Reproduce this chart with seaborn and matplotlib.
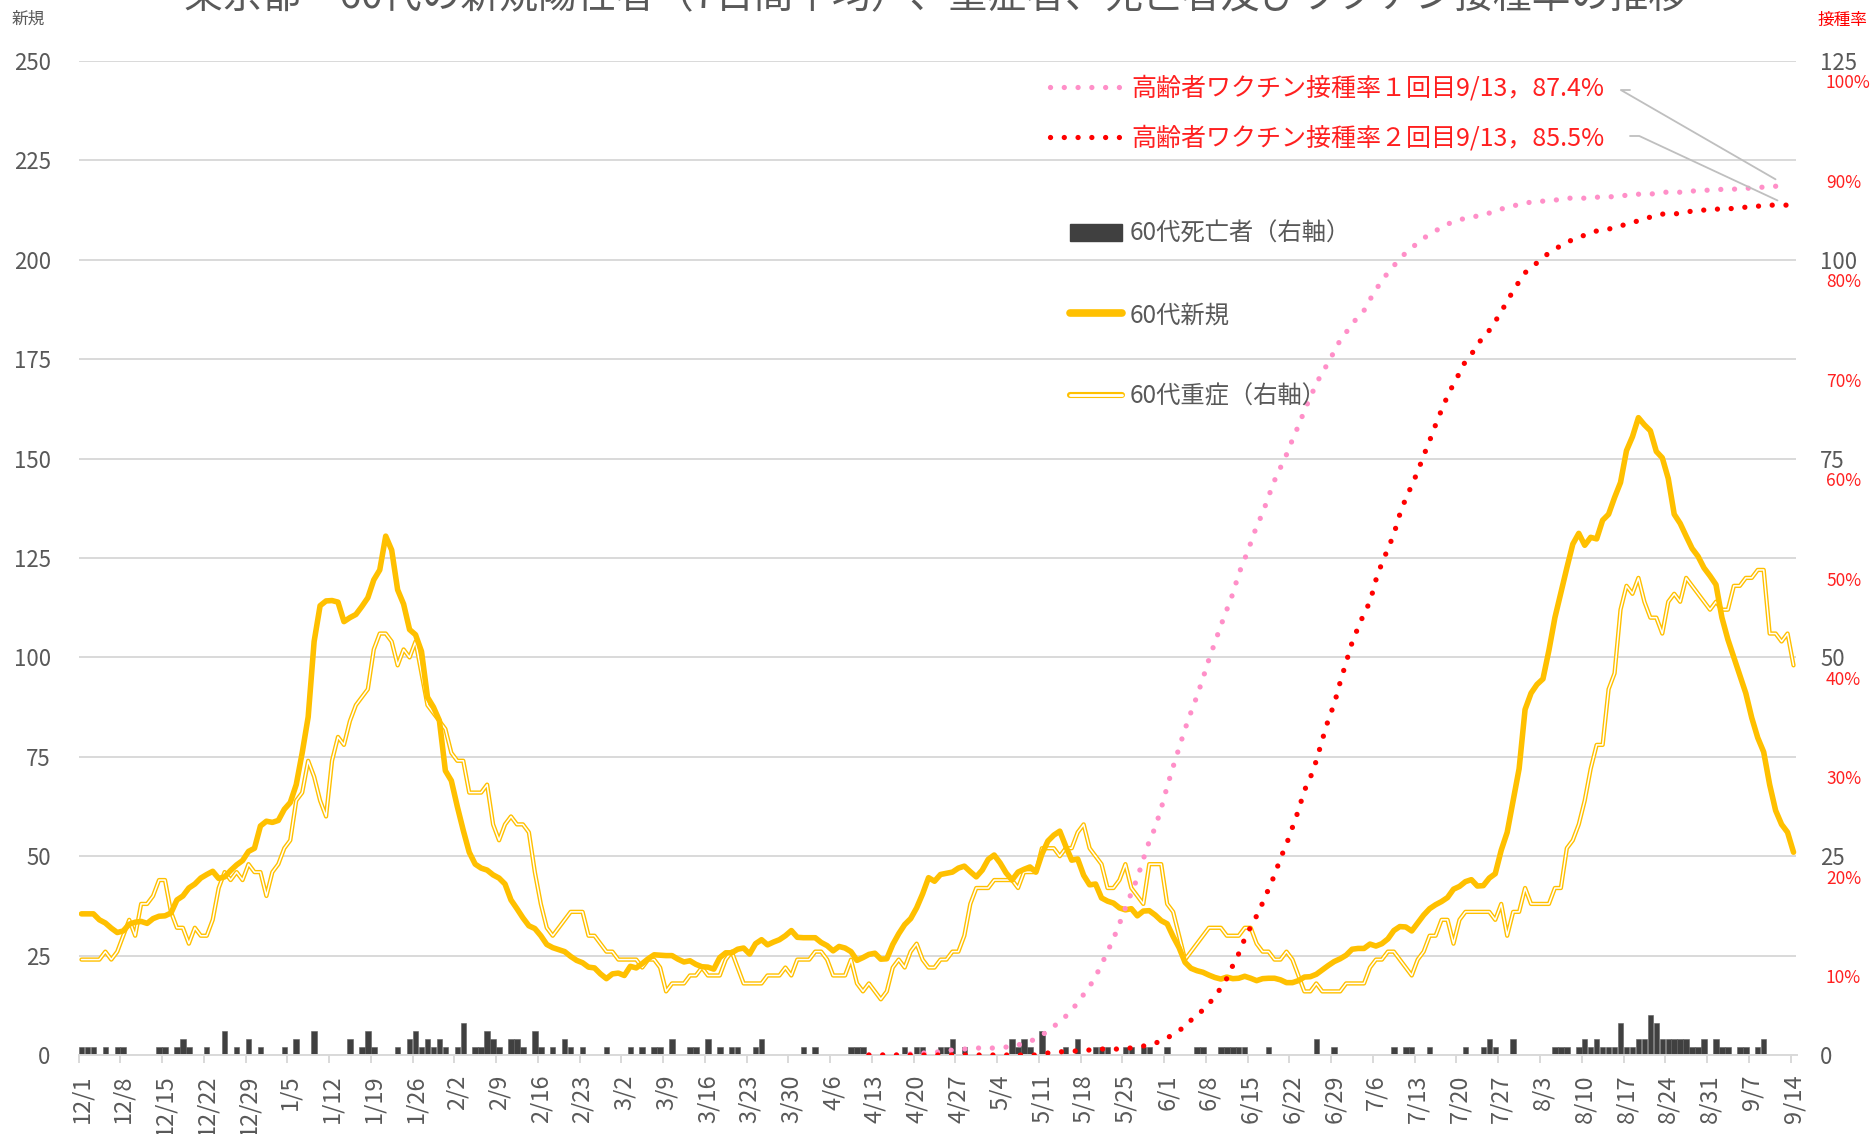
import numpy as np
import pandas as pd
import matplotlib
matplotlib.use("Agg")
import matplotlib.pyplot as plt
import seaborn as sns
from matplotlib.lines import Line2D
from matplotlib.patches import Patch
from matplotlib.legend_handler import HandlerTuple

sns.set_theme(style="white")
plt.rcParams['font.family'] = ['Noto Sans CJK JP', 'DejaVu Sans']

# daily axis 2020/12/1 - 2021/9/14
dates = pd.date_range("2020-12-01", "2021-09-14", freq="D")
tick_labels = ["12/1", "12/8", "12/15", "12/22", "12/29", "1/5", "1/12", "1/19", "1/26",
               "2/2", "2/9", "2/16", "2/23", "3/2", "3/9", "3/16", "3/23", "3/30", "4/6",
               "4/13", "4/20", "4/27", "5/4", "5/11", "5/18", "5/25", "6/1", "6/8", "6/15",
               "6/22", "6/29", "7/6", "7/13", "7/20", "7/27", "8/3", "8/10", "8/17", "8/24",
               "8/31", "9/7", "9/14"]

# 60代新規 (7日間平均)
new_cases = [
    35.5, 35.5, 35.5, 34.0, 33.2, 31.9, 30.8,
    31.2, 32.9, 33.4, 33.6, 33.1, 34.3, 34.9,
    35.0, 35.7, 39.0, 40.0, 42.0, 43.0, 44.5,
    45.4, 46.2, 44.4, 44.8, 46.4, 47.8, 48.9,
    51.2, 52.0, 57.6, 58.8, 58.5, 59.0, 61.8,
    63.5, 68.0, 76.0, 85.0, 104.0, 113.0, 114.2,
    114.3, 113.9, 109.0, 110.0, 110.8, 112.8, 115.0,
    119.5, 122.0, 130.5, 127.0, 117.0, 113.4, 107.0,
    105.7, 101.5, 90.0, 87.5, 84.1, 71.5, 69.0,
    62.5, 56.5, 51.0, 48.0, 47.0, 46.5, 45.3,
    44.5, 43.0, 39.0, 36.8, 34.5, 32.5, 31.8,
    30.0, 27.8, 27.0, 26.5, 26.0, 24.8, 23.8,
    23.2, 22.1, 21.9, 20.4, 19.2, 20.4, 20.6,
    20.0, 22.3, 21.9, 23.0, 24.2, 25.2, 25.1,
    25.0, 25.0, 24.1, 23.4, 23.7, 22.8, 22.2,
    22.1, 21.6, 24.5, 25.7, 25.7, 26.6, 26.9,
    25.4, 28.0, 29.0, 27.7, 28.4, 29.0, 30.0,
    31.3, 29.6, 29.5, 29.5, 29.5, 28.3, 27.5,
    26.2, 27.3, 26.9, 26.0, 23.8, 24.5, 25.3,
    25.6, 24.1, 24.2, 27.8, 30.5, 32.8, 34.3,
    37.0, 40.5, 44.6, 43.7, 45.4, 45.7, 46.0,
    47.0, 47.5, 46.1, 44.8, 46.5, 49.2, 50.3,
    48.3, 45.8, 44.0, 46.0, 46.7, 47.3, 46.0,
    50.5, 53.8, 55.3, 56.3, 52.5, 49.0, 49.3,
    45.2, 42.8, 43.0, 39.5, 38.7, 38.2, 37.0,
    36.5, 36.8, 35.0, 36.2, 36.3, 35.2, 33.8,
    33.0, 29.8, 27.0, 23.3, 21.8, 21.2, 20.8,
    20.1, 19.5, 19.1, 19.6, 19.2, 19.3, 19.8,
    19.3, 18.7, 19.2, 19.3, 19.3, 18.9, 18.2,
    18.2, 18.7, 19.6, 19.7, 20.3, 21.4, 22.5,
    23.5, 24.2, 25.1, 26.6, 26.8, 26.8, 27.9,
    27.4, 28.0, 29.2, 31.3, 32.3, 32.2, 31.2,
    33.2, 35.2, 36.8, 37.8, 38.6, 39.6, 41.7,
    42.4, 43.6, 44.1, 42.5, 42.6, 44.5, 45.6,
    51.5, 56.0, 64.0, 72.0, 86.9, 91.0, 93.2,
    94.6, 101.8, 110.0, 116.3, 122.5, 128.5, 131.2,
    128.2, 130.2, 129.8, 134.5, 136.0, 140.2, 144.0,
    152.0, 155.5, 160.3, 158.5, 157.0, 151.8, 150.2,
    145.0, 136.0, 133.7, 130.5, 127.4, 125.4, 122.5,
    120.5, 118.3, 110.0, 104.5, 100.0, 95.5, 91.0,
    84.8, 79.8, 76.2, 68.0, 61.5, 58.0, 56.0,
    51.0]

# 60代重症 (右軸)
severe = [
    12, 12, 12, 12, 13, 12, 13,
    15, 17, 15, 19, 19, 20, 22,
    22, 18, 16, 16, 14, 16, 15,
    15, 17, 21, 23, 22, 23, 22,
    24, 23, 23, 20, 23, 24, 26,
    27, 32, 33, 37, 35, 32, 30,
    37, 40, 39, 42, 44, 45, 46,
    51, 53, 53, 52, 49, 51, 50,
    52, 48, 44, 43, 42, 41, 38,
    37, 37, 33, 33, 33, 34, 29,
    27, 29, 30, 29, 29, 28, 23,
    19, 16, 15, 16, 17, 18, 18,
    18, 15, 15, 14, 13, 13, 12,
    12, 12, 12, 11, 12, 12, 11,
    8, 9, 9, 9, 10, 10, 11,
    10, 10, 10, 12, 13, 11, 9,
    9, 9, 9, 10, 10, 10, 11,
    10, 12, 12, 12, 13, 13, 12,
    10, 10, 10, 12, 9, 8, 9,
    8, 7, 8, 11, 12, 11, 13,
    14, 12, 11, 11, 12, 12, 13,
    13, 15, 19, 21, 21, 21, 22,
    22, 22, 22, 21, 23, 23, 23,
    26, 26, 26, 25, 26, 26, 28,
    29, 26, 25, 24, 21, 21, 22,
    24, 21, 20, 19, 24, 24, 24,
    19, 18, 15, 12, 13, 14, 15,
    16, 16, 16, 15, 15, 15, 16,
    16, 14, 13, 13, 12, 12, 13,
    12, 10, 8, 8, 9, 8, 8,
    8, 8, 9, 9, 9, 9, 11,
    12, 12, 13, 13, 12, 11, 10,
    12, 13, 15, 15, 17, 17, 14,
    17, 18, 18, 18, 18, 18, 17,
    19, 15, 18, 18, 21, 19, 19,
    19, 19, 21, 21, 26, 27, 29,
    32, 36, 39, 39, 46, 48, 56,
    59, 58, 60, 57, 55, 55, 53,
    57, 58, 57, 60, 59, 58, 57,
    56, 57, 56, 56, 59, 59, 60,
    60, 61, 61, 53, 53, 52, 53,
    49]

# 60代死亡者 (右軸)
deaths = [
    1, 1, 1, 0, 1, 0, 1,
    1, 0, 0, 0, 0, 0, 1,
    1, 0, 1, 2, 1, 0, 0,
    1, 0, 0, 3, 0, 1, 0,
    2, 0, 1, 0, 0, 0, 1,
    0, 2, 0, 0, 3, 0, 0,
    0, 0, 0, 2, 0, 1, 3,
    1, 0, 0, 0, 1, 0, 2,
    3, 1, 2, 1, 2, 1, 0,
    1, 4, 0, 1, 1, 3, 2,
    1, 0, 2, 2, 1, 0, 3,
    1, 0, 1, 0, 2, 1, 0,
    1, 0, 0, 0, 1, 0, 0,
    0, 1, 0, 1, 0, 1, 1,
    0, 2, 0, 0, 1, 1, 0,
    2, 0, 1, 0, 1, 1, 0,
    0, 1, 2, 0, 0, 0, 0,
    0, 0, 1, 0, 1, 0, 0,
    0, 0, 0, 1, 1, 1, 0,
    0, 0, 0, 0, 0, 1, 0,
    1, 1, 0, 0, 1, 1, 2,
    0, 1, 0, 0, 0, 0, 0,
    0, 0, 2, 1, 2, 1, 0,
    3, 0, 0, 0, 1, 0, 2,
    0, 0, 1, 1, 1, 0, 0,
    1, 1, 0, 1, 1, 0, 0,
    1, 0, 0, 0, 0, 1, 1,
    0, 0, 1, 1, 1, 1, 1,
    0, 0, 0, 1, 0, 0, 0,
    0, 0, 0, 0, 2, 0, 0,
    1, 0, 0, 0, 0, 0, 0,
    0, 0, 0, 1, 0, 1, 1,
    0, 0, 1, 0, 0, 0, 0,
    0, 1, 0, 0, 1, 2, 1,
    0, 0, 2, 0, 0, 0, 0,
    0, 0, 1, 1, 1, 0, 1,
    2, 1, 2, 1, 1, 1, 4,
    1, 1, 2, 2, 5, 4, 2,
    2, 2, 2, 2, 1, 1, 2,
    0, 2, 1, 1, 0, 1, 1,
    0, 1, 2, 0, 0, 0, 0,
    0]

# 高齢者ワクチン接種率 (%), 2021/4/12 - 9/13
vax_start = "2021-04-12"
vax_last_label = "9/13"
vax1 = [
    0.0, 0.0, 0.0, 0.0, 0.0, 0.0, 0.1,
    0.1, 0.1, 0.2, 0.2, 0.3, 0.3, 0.4,
    0.5, 0.5, 0.6, 0.6, 0.7, 0.7, 0.7,
    0.7, 0.7, 0.8, 0.8, 1.0, 1.2, 1.4,
    1.6, 2.0, 2.4, 2.9, 3.3, 3.9, 4.6,
    5.2, 6.1, 6.9, 7.9, 9.1, 10.4, 11.7,
    13.2, 14.8, 16.3, 17.8, 19.7, 21.5, 22.9,
    24.8, 27.0, 29.0, 30.9, 32.8, 34.5, 36.1,
    37.9, 39.8, 41.5, 43.2, 44.8, 46.4, 48.4,
    49.9, 51.5, 53.2, 54.5, 56.2, 57.8, 59.1,
    60.4, 61.9, 63.3, 64.8, 66.2, 67.5, 68.7,
    69.6, 70.8, 71.9, 72.7, 73.5, 74.3, 74.9,
    76.0, 77.0, 77.9, 78.7, 79.4, 80.1, 80.7,
    81.2, 81.7, 82.2, 82.5, 82.9, 83.3, 83.6,
    83.8, 84.0, 84.2, 84.3, 84.4, 84.6, 84.7,
    84.9, 85.1, 85.3, 85.4, 85.6, 85.7, 85.8,
    85.9, 85.9, 85.9, 86.0, 86.1, 86.2, 86.2,
    86.2, 86.2, 86.2, 86.3, 86.3, 86.3, 86.4,
    86.4, 86.5, 86.5, 86.6, 86.6, 86.6, 86.7,
    86.8, 86.8, 86.8, 86.8, 86.9, 86.9, 87.0,
    87.0, 87.0, 87.0, 87.1, 87.1, 87.1, 87.2,
    87.2, 87.2, 87.3, 87.3, 87.4, 87.4, 87.4,
    87.4]
vax2 = [
    0.0, 0.0, 0.0, 0.0, 0.0, 0.0, 0.0,
    0.0, 0.0, 0.0, 0.0, 0.0, 0.0, 0.0,
    0.0, 0.0, 0.0, 0.0, 0.0, 0.0, 0.0,
    0.0, 0.0, 0.0, 0.0, 0.0, 0.0, 0.0,
    0.0, 0.1, 0.2, 0.3, 0.3, 0.4, 0.4,
    0.4, 0.5, 0.5, 0.5, 0.6, 0.6, 0.6,
    0.6, 0.7, 0.7, 0.8, 0.9, 1.0, 1.2,
    1.4, 1.7, 2.1, 2.5, 2.8, 3.5, 4.1,
    4.5, 5.1, 6.0, 6.7, 7.7, 9.0, 10.2,
    11.7, 12.9, 14.0, 15.3, 16.7, 18.1, 19.8,
    21.2, 22.9, 24.6, 26.6, 27.9, 29.6, 31.7,
    33.7, 35.3, 37.5, 39.5, 41.5, 43.0, 44.4,
    45.6, 47.8, 49.5, 50.9, 52.4, 54.4, 56.0,
    57.3, 58.7, 60.3, 61.8, 63.4, 64.9, 66.3,
    67.5, 68.6, 69.8, 70.5, 71.4, 72.3, 72.9,
    73.8, 74.8, 75.8, 76.9, 77.8, 78.7, 79.2,
    79.7, 80.2, 80.7, 81.1, 81.4, 81.8, 82.0,
    82.2, 82.5, 82.7, 82.9, 83.0, 83.1, 83.2,
    83.4, 83.6, 83.8, 83.9, 84.1, 84.3, 84.4,
    84.6, 84.6, 84.6, 84.7, 84.8, 84.9, 85.0,
    85.0, 85.0, 85.1, 85.1, 85.1, 85.2, 85.2,
    85.3, 85.3, 85.4, 85.4, 85.5, 85.5, 85.5,
    85.5]

GOLD = '#FFC000'
PINK = '#FF8FC8'
RED = '#FF0000'
GRAY = '#595959'
GRID = '#D9D9D9'

days = np.arange(len(dates))
df = pd.DataFrame({'day': days, 'new': new_cases, 'severe': severe, 'deaths': deaths})
v0 = int(np.where(dates == pd.Timestamp(vax_start))[0][0])
vdf = pd.DataFrame({'day': np.arange(v0, v0 + len(vax1)), 'v1': vax1, 'v2': vax2})

W, H = 1871, 1134
fig = plt.figure(figsize=(W / 100, H / 100), dpi=100, facecolor='white')
ax = fig.add_axes([78.5 / W, 79 / H, 1718 / W, 994 / H])
ax2 = ax.twinx()
ax3 = ax.twinx()
ax2.set_zorder(1)
ax.set_zorder(2)
ax3.set_zorder(3)
ax.patch.set_visible(False)
ax3.patch.set_visible(False)

# deaths bars + severe (right axis)
sns.barplot(data=df, x='day', y='deaths', ax=ax2, native_scale=True, color='#404040',
            saturation=1, width=0.92, errorbar=None, edgecolor='#5E5E5E', linewidth=0.4)
sns.lineplot(data=df, x='day', y='severe', ax=ax2, color=GOLD, linewidth=3.1,
             solid_joinstyle='round', solid_capstyle='round')
sns.lineplot(data=df, x='day', y='severe', ax=ax2, color='white', linewidth=1.1,
             solid_joinstyle='round', solid_capstyle='round')

# new cases (left axis)
sns.lineplot(data=df, x='day', y='new', ax=ax, color=GOLD, linewidth=4.0,
             solid_joinstyle='round', solid_capstyle='round')

# vaccination rate
dot = (0, (0.01, 2.6))
sns.lineplot(data=vdf, x='day', y='v1', ax=ax3, color=PINK, linewidth=3.8,
             linestyle=dot, dash_capstyle='round')
sns.lineplot(data=vdf, x='day', y='v2', ax=ax3, color=RED, linewidth=3.8,
             linestyle=dot, dash_capstyle='round')

for a in (ax, ax2, ax3):
    a.set_xlabel('')
    a.set_ylabel('')
    for s in a.spines.values():
        s.set_visible(False)

ax.set_xlim(-0.5, len(dates) - 0.5)
ax.set_ylim(0, 250)
ax2.set_ylim(0, 125)
ax3.set_ylim(0, 100)

# gridlines at every 25 (left)
ax2.set_yticks(np.arange(0, 126, 25))
ax2.set_yticks(np.arange(12.5, 125, 25), minor=True)
ax2.grid(axis='y', which='both', color=GRID, linewidth=1.4)
ax2.tick_params(axis='y', which='both', length=0, pad=17, labelsize=16, labelcolor=GRAY)

ax.set_yticks(np.arange(0, 251, 25))
ax.tick_params(axis='y', length=0, pad=20, labelsize=16, labelcolor=GRAY)

ax3.set_yticks([])
for p in range(10, 101, 10):
    ax3.annotate(f"{p}%", xy=(1, p), xycoords=('axes fraction', 'data'),
                 xytext=(29.5, -22.5), textcoords='offset pixels',
                 ha='left', va='center', fontsize=12.5, color='#FF2020')

ax.spines['bottom'].set_visible(True)
ax.spines['bottom'].set_color(GRID)
ax.spines['bottom'].set_linewidth(1.4)
week_pos = np.arange(0, len(dates), 7)
ax.set_xticks(week_pos)
ax.set_xticklabels(tick_labels, rotation=90)
ax.set_xticks(week_pos - 0.5, minor=True)
ax.tick_params(axis='x', which='major', length=0, pad=14, labelsize=17, labelcolor=GRAY)
ax.tick_params(axis='x', which='minor', length=6, width=1.4, color=GRID, direction='out')
ax.xaxis.set_ticks_position('bottom')

# titles / axis captions
fig.text(0.5, 1 - 17 / H, "東京都　60代の新規陽性者（7日間平均）、重症者、死亡者及びワクチン接種率の推移",
         ha='center', va='bottom', fontsize=28, color=GRAY)
fig.text(12 / W, 1 - 19 / H, "新規", ha='left', va='center', fontsize=12, color=GRAY)
fig.text(1818 / W, 1 - 20 / H, "接種率", ha='left', va='center', fontsize=12, color=RED)

# series legend
h_deaths = Patch(facecolor='#404040', edgecolor='#404040')
h_new = Line2D([], [], color=GOLD, linewidth=5.5, solid_capstyle='round')
h_sev = (Line2D([], [], color=GOLD, linewidth=4.4, solid_capstyle='round'),
         Line2D([], [], color='white', linewidth=2.0, solid_capstyle='round'))
leg1 = fig.legend([h_deaths, h_new, h_sev], ["60代死亡者（右軸）", "60代新規", "60代重症（右軸）"],
                  loc='upper left', bbox_to_anchor=(1070 / W, 1 - 221 / H), frameon=False,
                  fontsize=17.5, labelcolor=GRAY, handlelength=2.14, handleheight=0.75,
                  handletextpad=0.33, borderpad=0, borderaxespad=0, labelspacing=2.27,
                  handler_map={tuple: HandlerTuple(ndivide=1, pad=0)})

# vaccination legend
h_v1 = Line2D([], [], color=PINK, linewidth=3.8, linestyle=dot, dash_capstyle='round')
h_v2 = Line2D([], [], color=RED, linewidth=3.8, linestyle=dot, dash_capstyle='round')
lab_v1 = f"高齢者ワクチン接種率１回目{vax_last_label}，{vax1[-1]}%"
lab_v2 = f"高齢者ワクチン接種率２回目{vax_last_label}，{vax2[-1]}%"
leg2 = fig.legend([h_v1, h_v2], [lab_v1, lab_v2], loc='upper left',
                  bbox_to_anchor=(1050 / W, 1 - 76 / H), frameon=False, fontsize=18,
                  labelcolor='#FF2020', handlelength=2.75, handletextpad=0.5, borderpad=0,
                  borderaxespad=0, labelspacing=0.95)

# leader lines from the labels to the last points
last = vdf['day'].iloc[-1]
ax3.annotate('', xy=(last, vax1[-1]), xytext=(1630, H - 90), textcoords='figure pixels',
             arrowprops=dict(arrowstyle='-', color='#BFBFBF', lw=1.3, shrinkA=0, shrinkB=10,
                             connectionstyle='angle,angleA=0,angleB=150,rad=0'))
ax3.annotate('', xy=(last, vax2[-1]), xytext=(1630, H - 136), textcoords='figure pixels',
             arrowprops=dict(arrowstyle='-', color='#BFBFBF', lw=1.3, shrinkA=0, shrinkB=8,
                             connectionstyle='angle,angleA=0,angleB=155,rad=0'))

fig.savefig('out.png', dpi=100, facecolor='white')
